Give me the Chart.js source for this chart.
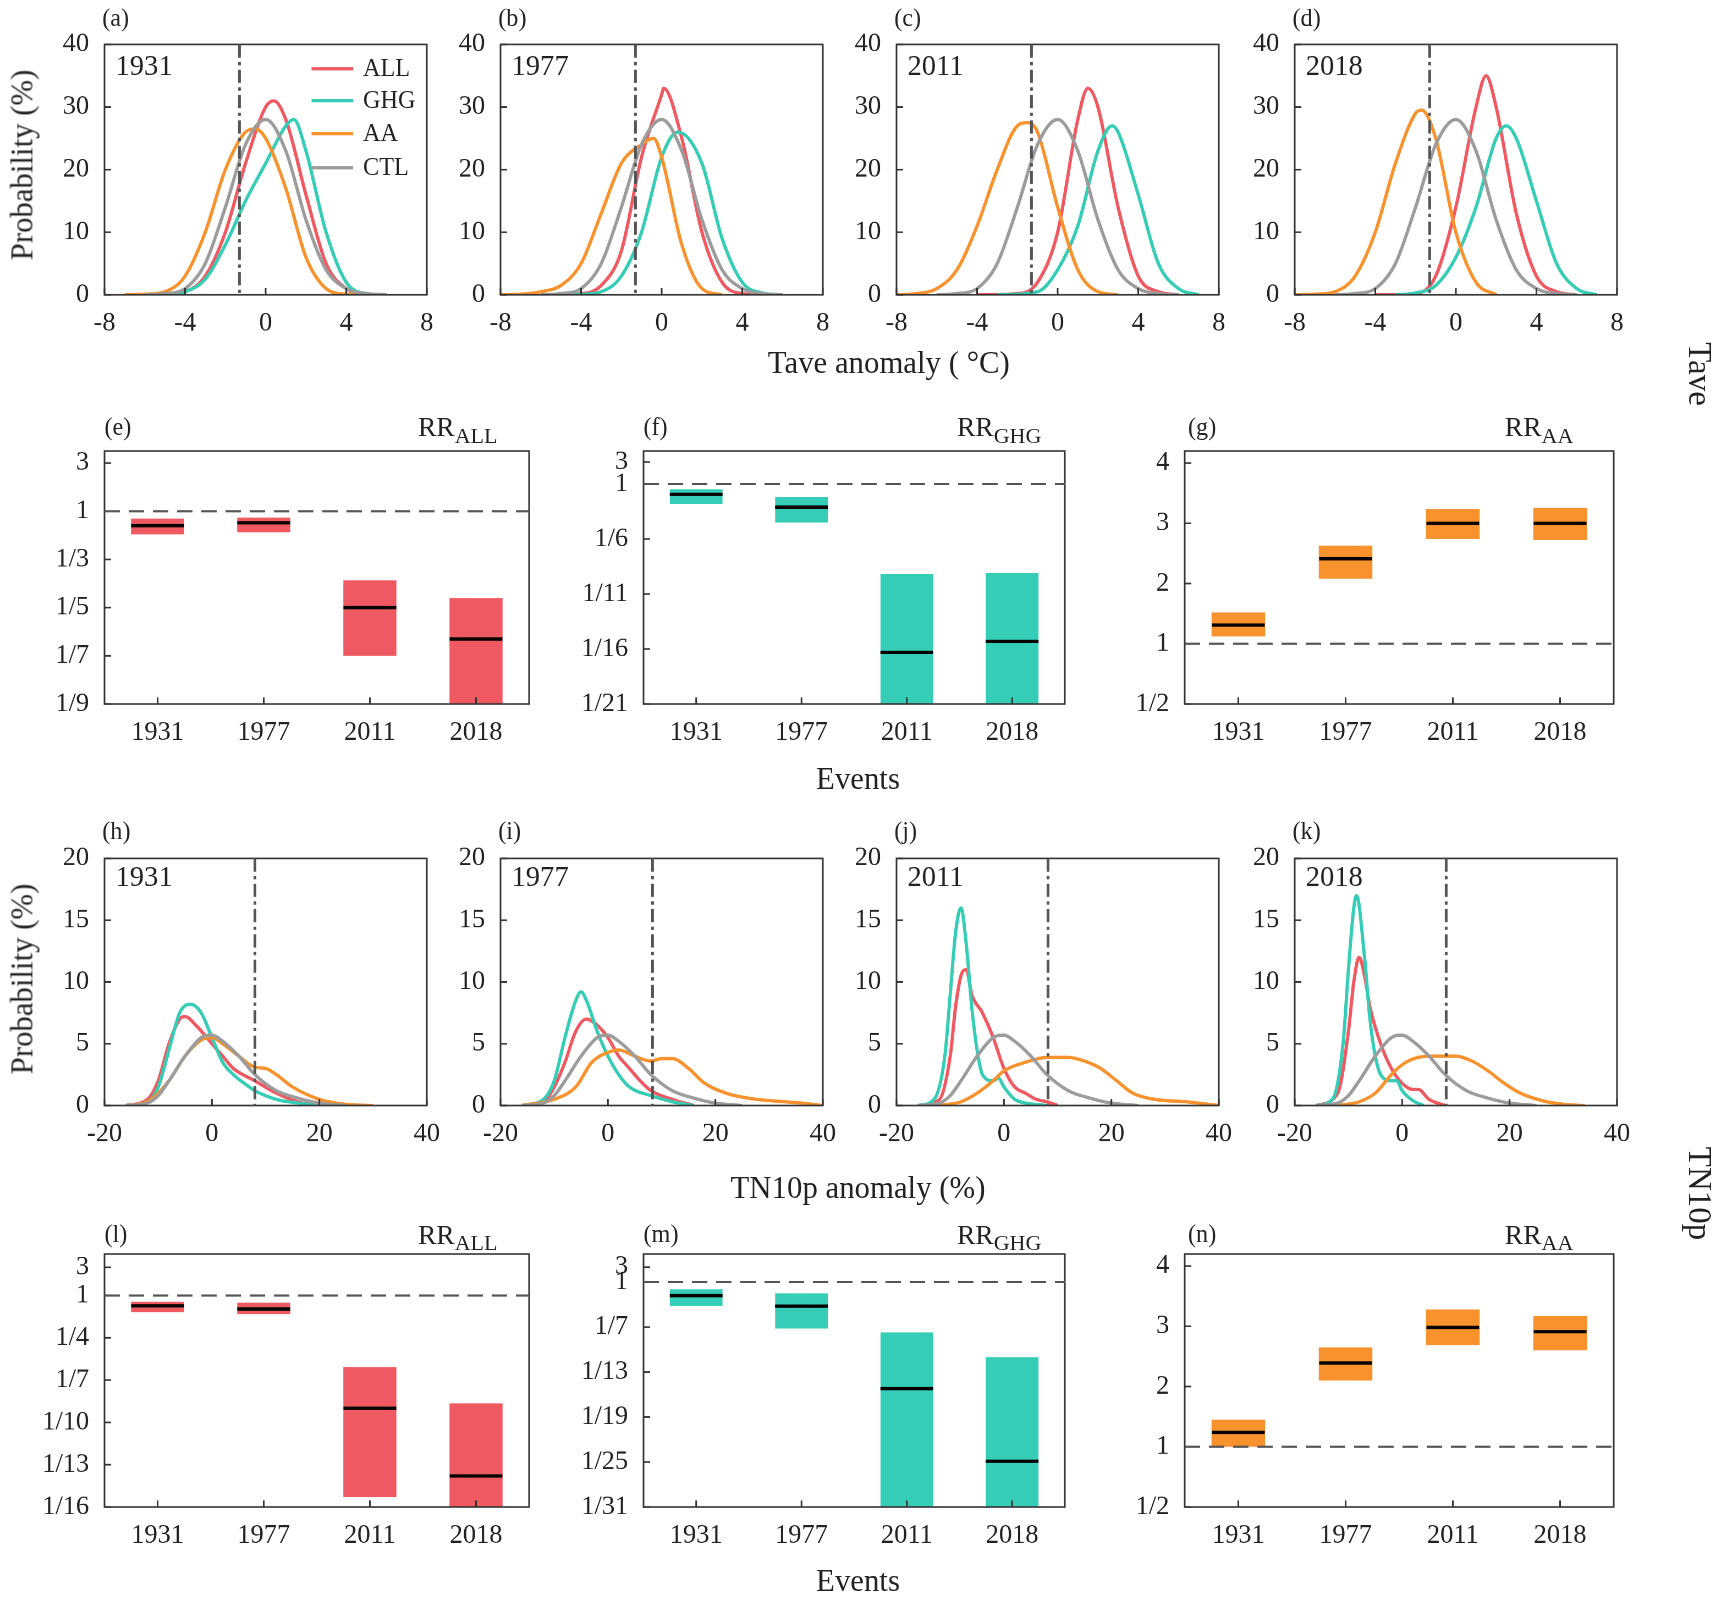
<!DOCTYPE html>
<html><head><meta charset="utf-8">
<script src="https://cdn.jsdelivr.net/npm/chart.js@4.4.1/dist/chart.umd.min.js"></script>
<style>
body{margin:0;background:#fff;}
#wrap{position:absolute;left:0;top:0;width:1568px;height:1452px;transform:scale(1.1);transform-origin:0 0;font-family:'Liberation Serif','Times New Roman',Times,serif;color:#222;}
.t{position:absolute;white-space:nowrap;transform:translateY(-50%);}
canvas{position:absolute;}
sub{font-size:80%;}
</style></head><body><div id="wrap"></div>
<script>
// ---- Tave PDFs (x: anomaly degC, y: probability %) ----
const taveCtl = [[-6,0],[-5,0.2],[-4,1],[-3,5],[-2,14],[-1,24],[0,28],[1,23],[2,12],[3,4],[4,1],[5,0.2],[6,0]];
const tave1931All = [[-6,0],[-5,0.1],[-4,0.5],[-3,3],[-2,10],[-1,21],[0,30],[0.4,31],[1,28],[2,16],[3,5],[4,1],[5,0.1],[6,0]];
const tave1931Ghg = [[-6,0],[-5,0.1],[-4,0.5],[-3,2.5],[-2,8],[-1,15],[0,21],[1,27],[1.4,28],[2,23],[3,10],[4,2],[5,0.2],[6,0]];
const tave1931Aa = [[-7,0],[-6,0.1],[-5,0.5],[-4,3],[-3,10],[-2,20],[-1,26],[-0.5,26.5],[0,25],[1,17],[2,6],[3,1],[4,0.1],[5,0]];
const tave1977All = [[-6,0],[-4,0.2],[-3,1.5],[-2,7],[-1,22],[0,32],[0.1,33],[1,25],[2,10],[3,2],[4,0.2],[5,0]];
const tave1977Ghg = [[-6,0],[-4,0.1],[-3,0.5],[-2,3],[-1,10],[0,22],[0.8,26],[2,21],[3,9],[4,2],[5,0.3],[6,0]];
const tave1977Aa = [[-8,0],[-7,0.1],[-6,0.5],[-5,1.5],[-4,5],[-3,13],[-2,21],[-1,24],[-0.4,25],[0,22],[1,8],[2,1],[3,0]];
const tave2011All = [[-4,0],[-2,0.2],[-1,2],[0,10],[1,28],[1.5,33],[2,30],[3,14],[4,3],[5,0.5],[6,0]];
const tave2011Ghg = [[-3,0],[-1,0.5],[0,4],[1,11],[2,23],[2.7,27],[3,26],[4,16],[5,5],[6,1],[7,0]];
const tave2011Aa = [[-8,0],[-7,0.2],[-6,1],[-5,4],[-4,11],[-3,20],[-2,27],[-1.5,27.5],[-1,26],[0,14],[1,4],[2,0.5],[3,0]];
const tave2018All = [[-4,0],[-2,0.2],[-1,3],[0,14],[1,30],[1.5,35],[2,30],[3,13],[4,3],[5,0.5],[6,0]];
const tave2018Ghg = [[-3,0],[-2,0.3],[-1,1.5],[0,6],[1,14],[2,25],[2.5,27],[3,25],[4,15],[5,5],[6,1],[7,0]];
const tave2018Aa = [[-8,0],[-7,0.1],[-6,0.5],[-5,3],[-4,10],[-3,21],[-2,29],[-1.7,29.5],[-1,25],[0,10],[1,2],[2,0]];
const taveThresh = [-1.3, -1.3, -1.3, -1.3];

// ---- TN10p PDFs (x: anomaly %, y: probability %) ----
const tnCtl = [[-16,0],[-12,0.2],[-10,0.8],[-8,2],[-5,4],[-2,5.5],[0,5.7],[2,5.2],[5,4],[8,2.5],[12,1.2],[16,0.6],[20,0.2],[25,0]];
const tn1931All = [[-16,0],[-12,0.5],[-10,2],[-8,5],[-6,7],[-5,7.2],[-3,6.5],[0,5],[2,4],[4,3],[8,2],[12,1],[16,0.3],[20,0]];
const tn1931Ghg = [[-16,0],[-12,0.3],[-10,1.5],[-8,4.5],[-6,7.5],[-4,8.2],[-2,7.5],[0,5.5],[2,3.5],[4,2.5],[6,1.8],[8,1.2],[12,0.5],[16,0.2],[20,0]];
const tn1931Aa = [[-16,0],[-12,0.3],[-10,1],[-8,2],[-5,4],[-2,5.3],[0,5.5],[2,5],[5,4],[8,3.1],[10,3],[12,2.5],[15,1.5],[20,0.5],[25,0.1],[30,0]];
const tn1977All = [[-16,0],[-12,0.3],[-10,1.5],[-8,3.5],[-6,6],[-4,7],[-2,6.5],[0,5.5],[2,4],[4,3],[6,2],[8,1.2],[12,0.5],[16,0]];
const tn1977Ghg = [[-16,0],[-12,0.5],[-10,2],[-8,5.5],[-6,8.5],[-5,9.2],[-4,8.5],[-2,6],[0,4],[2,2.5],[4,1.5],[8,0.8],[12,0.3],[16,0]];
const tn1977Aa = [[-16,0],[-10,0.5],[-6,1.5],[-3,3.5],[0,4.3],[2,4.5],[5,4],[8,3.6],[10,3.8],[12,3.8],[15,3],[18,1.8],[22,1],[26,0.6],[30,0.4],[36,0.2],[40,0]];
const tn2011All = [[-16,0],[-12,0.5],[-10,4],[-9,8],[-8,10.5],[-7,11],[-6,9],[-4,7.5],[-2,5.5],[0,3],[2,1.5],[4,1],[6,0.5],[8,0.3],[10,0]];
const tn2011Ghg = [[-16,0],[-13,0.5],[-11,4],[-10,9],[-9,14],[-8,16],[-7,13],[-6,8],[-5,4.5],[-4,2.5],[-2,2],[-1,2.2],[0,1.5],[2,0.5],[4,0.2],[8,0]];
const tn2011Aa = [[-12,0],[-8,0.3],[-5,1],[-2,2],[0,2.8],[4,3.5],[8,3.9],[12,3.9],[15,3.6],[18,3],[21,2],[24,1],[28,0.5],[34,0.3],[40,0]];
const tn2018All = [[-16,0],[-12,1],[-10,6],[-9,10],[-8,12],[-7,10.5],[-6,8],[-4,5],[-2,3],[0,1.8],[2,1.3],[3,1.3],[5,0.5],[8,0]];
const tn2018Ghg = [[-16,0],[-13,0.5],[-11,5],[-10,11],[-9,16],[-8.5,17],[-7,12],[-6,7],[-5,4],[-4,2.5],[-2,2],[-1,2],[0,1.2],[2,0.4],[4,0]];
const tn2018Aa = [[-12,0],[-8,0.3],[-5,1],[-2,2.5],[0,3.3],[3,3.9],[6,4],[10,4],[13,3.6],[16,2.8],[19,1.8],[22,1],[26,0.4],[30,0.1],[34,0]];
const tnThresh = [8, 8.3, 8.2, 8.2];

// ---- Risk ratios (axis units: 1/n -> n-1, r>1 -> 1-r on reversed axes) ----
const events = ['1931', '1977', '2011', '2018'];
const taveRrAllRange = [[0.3, 0.96], [0.26, 0.87], [2.87, 6.0], [3.6, 8]];
const taveRrAllMed = [0.6, 0.48, 4.0, 5.3];
const taveRrGhgRange = [[0.47, 1.8], [1.2, 3.5], [8.2, 20], [8.1, 20]];
const taveRrGhgMed = [0.94, 2.1, 15.3, 14.3];
const taveRrAaRange = [[0.12, 0.52], [1.08, 1.63], [1.74, 2.24], [1.72, 2.26]];
const taveRrAaMed = [0.31, 1.41, 2.0, 2.0];
const tnRrAllRange = [[0.44, 1.18], [0.51, 1.32], [5.07, 14.3], [7.65, 15]];
const tnRrAllMed = [0.74, 0.96, 8.0, 12.8];
const tnRrGhgRange = [[0.97, 3.2], [1.5, 6.2], [6.7, 30], [10, 30]];
const tnRrGhgMed = [1.8, 3.2, 14.2, 23.9];
const tnRrAaRange = [[0, 0.45], [1.1, 1.65], [1.69, 2.28], [1.6, 2.17]];
const tnRrAaMed = [0.24, 1.39, 1.98, 1.91];
// tick labels
const rrTaveAllTicks = [[-2,'3'],[0,'1'],[2,'1/3'],[4,'1/5'],[6,'1/7'],[8,'1/9']];
const rrTaveGhgTicks = [[-2,'3'],[0,'1'],[5,'1/6'],[10,'1/11'],[15,'1/16'],[20,'1/21']];
const rrAaTicks = [[3,'4'],[2,'3'],[1,'2'],[0,'1'],[-1,'1/2']];
const rrTnAllTicks = [[-2,'3'],[0,'1'],[3,'1/4'],[6,'1/7'],[9,'1/10'],[12,'1/13'],[15,'1/16']];
const rrTnGhgTicks = [[-2,'3'],[0,'1'],[6,'1/7'],[12,'1/13'],[18,'1/19'],[24,'1/25'],[30,'1/31']];

const colAll = '#ef5a62', colGhg = '#35cdb5', colAa = '#f8922c', colCtl = '#9c9c9c';
const FONT = "'Liberation Serif', 'Times New Roman', Times, serif";
Chart.defaults.font.family = FONT;
Chart.defaults.font.size = 24;
Chart.defaults.color = '#222';

const wrap = document.getElementById('wrap');
const L = 85, R = 20, T = 15, B = 45;

// box, inward ticks and reference lines
const framePlugin = {
  id: 'frame',
  afterDraw(chart, args, opts) {
    const a = chart.chartArea, ctx = chart.ctx;
    ctx.save();
    ctx.strokeStyle = '#333'; ctx.lineWidth = 1.5;
    ctx.strokeRect(a.left, a.top, a.right - a.left, a.bottom - a.top);
    chart.scales.x.ticks.forEach(t => {
      const p = chart.scales.x.getPixelForValue(t.value);
      ctx.beginPath(); ctx.moveTo(p, a.bottom); ctx.lineTo(p, a.bottom - 6); ctx.stroke();
    });
    chart.scales.y.ticks.forEach(t => {
      const p = chart.scales.y.getPixelForValue(t.value);
      ctx.beginPath(); ctx.moveTo(a.left, p); ctx.lineTo(a.left + 6, p); ctx.stroke();
    });
    ctx.strokeStyle = '#555'; ctx.lineWidth = 2.5;
    if (opts.vx !== undefined) {
      const p = chart.scales.x.getPixelForValue(opts.vx);
      ctx.setLineDash([12, 4, 3, 4]);
      ctx.beginPath(); ctx.moveTo(p, a.top); ctx.lineTo(p, a.bottom); ctx.stroke();
    }
    if (opts.hy !== undefined) {
      ctx.lineWidth = 2;
      const p = chart.scales.y.getPixelForValue(opts.hy);
      ctx.setLineDash([14, 8]);
      ctx.beginPath(); ctx.moveTo(a.left, p); ctx.lineTo(a.right, p); ctx.stroke();
    }
    ctx.restore();
  }
};

function addCanvas(left, top, w, h) {
  const c = document.createElement('canvas');
  const cw = w + L + R, ch = h + T + B;
  c.style.left = (left - L) + 'px'; c.style.top = (top - T) + 'px';
  c.style.width = cw + 'px'; c.style.height = ch + 'px';
  c.width = cw; c.height = ch;
  wrap.appendChild(c);
  return c;
}

function pdfChart(left, top, w, h, series, xr, yMax, yStep, thresh) {
  const c = addCanvas(left, top, w, h);
  new Chart(c, {
    type: 'line',
    data: {
      datasets: series.map(s => ({
        data: s[0].map(p => ({x: p[0], y: p[1]})),
        borderColor: s[1], borderWidth: 3, pointRadius: 0,
        cubicInterpolationMode: 'monotone', fill: false
      }))
    },
    options: {
      responsive: false, animation: false, devicePixelRatio: 2,
      layout: {padding: {top: T, right: R}},
      plugins: {legend: {display: false}, tooltip: {enabled: false}, frame: {vx: thresh}},
      scales: {
        x: {type: 'linear', min: xr[0], max: xr[1], grid: {display: false}, border: {display: false},
            ticks: {stepSize: xr[2], maxRotation: 0, autoSkip: false, padding: 4},
            afterFit: s => { s.height = B; }},
        y: {min: 0, max: yMax, grid: {display: false}, border: {display: false},
            ticks: {stepSize: yStep, padding: 6},
            afterFit: s => { s.width = L; }}
      }
    },
    plugins: [framePlugin]
  });
}

function rrChart(left, top, w, h, range, med, color, ymin, ymax, reverse, tickList) {
  const c = addCanvas(left, top, w, h);
  const lab = {};
  tickList.forEach(t => { lab[t[0]] = t[1]; });
  new Chart(c, {
    type: 'bar',
    data: {
      labels: events,
      datasets: [
        {data: range, backgroundColor: color, barPercentage: 0.5, categoryPercentage: 1, order: 1},
        {type: 'line', data: med, showLine: false, pointStyle: 'line', pointRadius: 24,
         borderColor: '#000', borderWidth: 3, order: 0}
      ]
    },
    options: {
      responsive: false, animation: false, devicePixelRatio: 2,
      layout: {padding: {top: T, right: R}},
      plugins: {legend: {display: false}, tooltip: {enabled: false}, frame: {hy: 0}},
      scales: {
        x: {grid: {display: false}, border: {display: false}, ticks: {padding: 4},
            afterFit: s => { s.height = B; }},
        y: {min: ymin, max: ymax, reverse: reverse, grid: {display: false}, border: {display: false},
            afterBuildTicks: s => { s.ticks = tickList.map(t => ({value: t[0]})); },
            ticks: {padding: 6, callback: v => lab[v] !== undefined ? lab[v] : ''},
            afterFit: s => { s.width = L; }}
      }
    },
    plugins: [framePlugin]
  });
}

function text(str, x, y, size, extra) {
  const d = document.createElement('div');
  d.className = 't';
  d.innerHTML = str;
  d.style.left = x + 'px'; d.style.top = y + 'px'; d.style.fontSize = size + 'px';
  if (extra) Object.assign(d.style, extra);
  wrap.appendChild(d);
  return d;
}

const rowLefts = [95, 455, 815, 1177];
const taveSets = [
  [tave1931All, tave1931Ghg, tave1931Aa],
  [tave1977All, tave1977Ghg, tave1977Aa],
  [tave2011All, tave2011Ghg, tave2011Aa],
  [tave2018All, tave2018Ghg, tave2018Aa]
];
const tnSets = [
  [tn1931All, tn1931Ghg, tn1931Aa],
  [tn1977All, tn1977Ghg, tn1977Aa],
  [tn2011All, tn2011Ghg, tn2011Aa],
  [tn2018All, tn2018Ghg, tn2018Aa]
];
taveSets.forEach((s, i) => {
  pdfChart(rowLefts[i], 35, 293, 233,
    [[taveCtl, colCtl], [s[2], colAa], [s[1], colGhg], [s[0], colAll]],
    [-8, 8, 4], 40, 10, taveThresh[i]);
});
tnSets.forEach((s, i) => {
  pdfChart(rowLefts[i], 775, 293, 230,
    [[tnCtl, colCtl], [s[2], colAa], [s[1], colGhg], [s[0], colAll]],
    [-20, 40, 20], 20, 5, tnThresh[i]);
});

rrChart(95, 398, 393, 242, taveRrAllRange, taveRrAllMed, colAll, -2.5, 8, true, rrTaveAllTicks);
rrChart(585, 398, 390, 242, taveRrGhgRange, taveRrGhgMed, colGhg, -3, 20, true, rrTaveGhgTicks);
rrChart(1077, 398, 397, 242, taveRrAaRange, taveRrAaMed, colAa, -1, 3.2, false, rrAaTicks);
rrChart(95, 1128, 393, 242, tnRrAllRange, tnRrAllMed, colAll, -2.94, 15, true, rrTnAllTicks);
rrChart(585, 1128, 390, 242, tnRrGhgRange, tnRrGhgMed, colGhg, -3.75, 30, true, rrTnGhgTicks);
rrChart(1077, 1128, 397, 242, tnRrAaRange, tnRrAaMed, colAa, -1, 3.2, false, rrAaTicks);

// labels
const labs1 = ['(a)', '(b)', '(c)', '(d)'], labs3 = ['(h)', '(i)', '(j)', '(k)'];
rowLefts.forEach((x, i) => {
  text(labs1[i], x - 2, 17, 22);
  text(events[i], x + 10, 60, 26);
  text(labs3[i], x - 2, 756, 22);
  text(events[i], x + 10, 797, 26);
});
[['(e)', 95, 388, 'ALL', 380], ['(f)', 585, 388, 'GHG', 870], ['(g)', 1080, 388, 'AA', 1368],
 ['(l)', 95, 1122, 'ALL', 380], ['(m)', 585, 1122, 'GHG', 870], ['(n)', 1080, 1122, 'AA', 1368]]
  .forEach(p => {
    text(p[0], p[1], p[2], 22);
    text('RR<sub>' + p[3] + '</sub>', p[4], p[2] + 3, 25);
  });

// legend in (a)
[['ALL', colAll, 62], ['GHG', colGhg, 91], ['AA', colAa, 121], ['CTL', colCtl, 152]].forEach(l => {
  const d = document.createElement('div');
  d.style.cssText = 'position:absolute;left:283px;top:' + (l[2] - 1.5) + 'px;width:38px;height:3px;background:' + l[1];
  wrap.appendChild(d);
  text(l[0], 330, l[2], 22);
});

text('Probability (%)', 20, 150, 28, {transform: 'translate(-50%,-50%) rotate(-90deg)'});
text('Probability (%)', 20, 890, 28, {transform: 'translate(-50%,-50%) rotate(-90deg)'});
text('Tave anomaly ( °C)', 808, 330, 28, {transform: 'translate(-50%,-50%)'});
text('TN10p anomaly (%)', 780, 1080, 28, {transform: 'translate(-50%,-50%)'});
text('Events', 780, 708, 28, {transform: 'translate(-50%,-50%)'});
text('Events', 780, 1437, 28, {transform: 'translate(-50%,-50%)'});
text('Tave', 1545, 340, 30, {transform: 'translate(-50%,-50%) rotate(90deg)'});
text('TN10p', 1545, 1085, 30, {transform: 'translate(-50%,-50%) rotate(90deg)'});
</script></body></html>
